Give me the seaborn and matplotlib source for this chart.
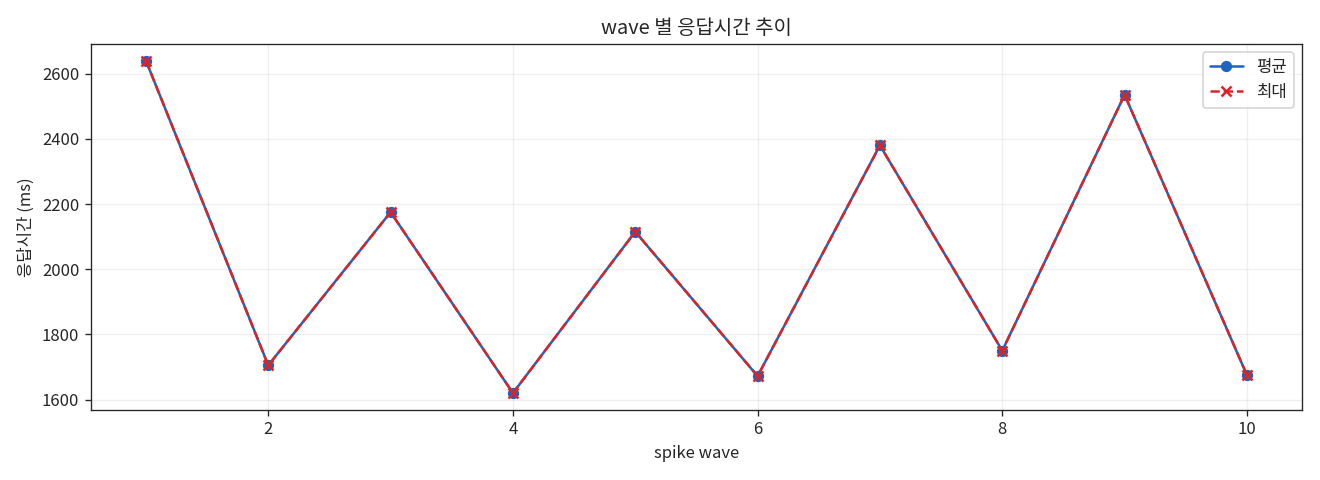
import matplotlib
matplotlib.use("Agg")
import matplotlib.pyplot as plt
import seaborn as sns
import pandas as pd

waves = [1, 2, 3, 4, 5, 6, 7, 8, 9, 10]
avg_ms = [2640, 1705, 2175, 1620, 2115, 1672, 2380, 1750, 2535, 1675]
max_ms = [2640, 1705, 2175, 1620, 2115, 1672, 2380, 1750, 2535, 1675]

sns.set_style("ticks")
plt.rcParams['font.family'] = ['Noto Sans CJK KR', 'DejaVu Sans']

df = pd.DataFrame({'wave': waves, 'avg': avg_ms, 'max': max_ms})

fig, ax = plt.subplots(figsize=(11, 4), dpi=120)
sns.lineplot(data=df, x='wave', y='avg', ax=ax, color='#1f63c0', label='평균')
sns.lineplot(data=df, x='wave', y='max', ax=ax, color='#d62728', label='최대')
l1, l2 = ax.get_lines()[:2]
l1.set_marker('o'); l1.set_markersize(6); l1.set_markeredgecolor('#1f63c0')
l2.set_linestyle('--'); l2.set_marker('x'); l2.set_markersize(6)
l2.set_markeredgecolor('#d62728'); l2.set_markeredgewidth(1.5)
ax.grid(True, alpha=0.3)
ax.set_title('wave 별 응답시간 추이')
ax.set_xlabel('spike wave')
ax.set_ylabel('응답시간 (ms)')
ax.legend(handles=[l1, l2], labels=['평균', '최대'], loc='upper right')
fig.tight_layout()
fig.savefig('out.png')
